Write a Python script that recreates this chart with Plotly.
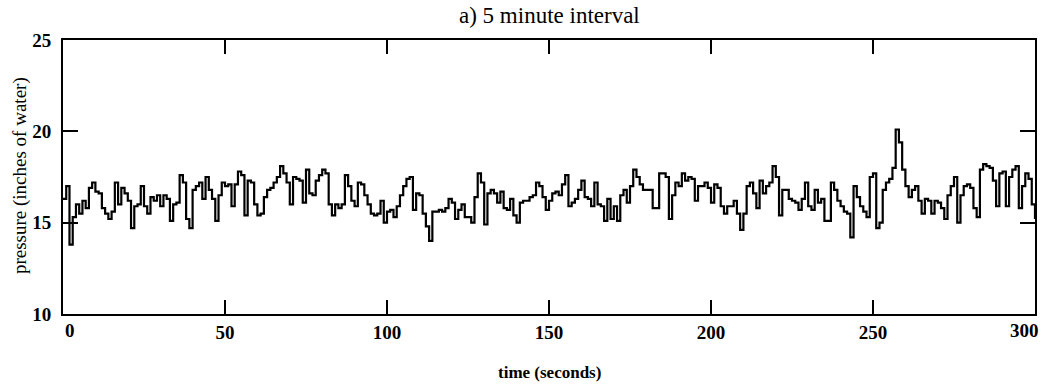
import plotly.graph_objects as go

# time axis (seconds), one reading per second
time_s = list(range(0, 301))

# pressure readings (inches of water)
pressure_0_59 = [
    16.3, 17.0, 13.8, 15.3, 16.0, 15.5, 16.2, 15.8, 16.9, 17.2,
    16.7, 16.6, 15.8, 15.5, 15.2, 15.6, 17.2, 16.0, 16.9, 16.6,
    16.2, 14.7, 15.9, 16.0, 17.0, 15.9, 15.5, 16.4, 16.2, 16.5,
    15.9, 16.5, 16.3, 15.1, 16.0, 16.1, 17.6, 17.2, 15.2, 14.7,
    16.8, 17.0, 17.2, 16.3, 17.5, 16.8, 16.3, 15.1, 16.5, 17.2,
    17.0, 17.1, 15.9, 17.1, 17.8, 17.6, 15.4, 17.3, 17.2, 16.0,
]
pressure_60_119 = [
    15.4, 15.5, 16.4, 16.8, 16.9, 17.2, 17.5, 18.1, 17.7, 17.2,
    16.0, 17.5, 17.4, 17.3, 16.1, 17.9, 16.6, 16.5, 17.3, 17.6,
    17.9, 17.7, 16.0, 15.4, 16.0, 15.8, 16.0, 17.6, 17.0, 16.2,
    15.9, 17.2, 17.1, 16.5, 16.0, 15.5, 15.4, 15.5, 16.2, 15.0,
    15.6, 15.7, 15.3, 15.9, 16.5, 17.0, 17.4, 17.5, 15.7, 16.6,
    16.5, 15.5, 14.8, 14.0, 15.6, 15.6, 15.7, 15.6, 15.8, 16.3,
]
pressure_120_179 = [
    16.1, 15.2, 15.7, 16.0, 15.3, 15.3, 15.0, 16.4, 17.7, 17.2,
    14.9, 16.6, 16.8, 16.6, 16.1, 16.7, 15.8, 15.7, 16.3, 15.4,
    15.0, 16.1, 16.2, 16.2, 16.4, 16.5, 17.2, 17.0, 16.4, 15.7,
    16.2, 16.6, 16.7, 16.5, 17.1, 17.6, 15.9, 16.1, 16.3, 16.8,
    17.3, 16.4, 16.3, 15.9, 17.2, 16.0, 15.9, 15.1, 16.3, 15.2,
    15.9, 15.1, 16.5, 16.8, 16.1, 17.0, 17.9, 17.5, 17.1, 16.8,
]
pressure_180_239 = [
    16.8, 16.8, 15.8, 15.8, 17.7, 17.7, 17.5, 15.2, 16.5, 17.2,
    17.0, 17.7, 17.3, 17.5, 17.4, 16.2, 17.0, 17.0, 17.2, 16.9,
    16.1, 17.1, 16.9, 15.9, 15.5, 15.9, 15.9, 16.2, 15.5, 14.6,
    15.5, 17.0, 17.2, 16.6, 15.8, 17.3, 16.6, 17.0, 17.2, 18.1,
    17.5, 15.4, 16.8, 16.8, 16.3, 16.2, 16.1, 15.7, 16.3, 17.2,
    15.9, 15.7, 16.8, 16.1, 16.3, 15.1, 15.1, 17.2, 16.8, 16.2,
]
pressure_240_300 = [
    15.9, 15.6, 15.5, 14.2, 17.0, 16.4, 15.9, 15.6, 15.3, 17.5,
    17.7, 14.7, 15.0, 16.8, 17.2, 17.4, 18.0, 20.1, 19.4, 17.9,
    17.0, 16.4, 16.8, 17.0, 16.2, 15.5, 16.3, 16.2, 15.5, 16.2,
    16.1, 15.8, 15.2, 16.5, 17.0, 17.5, 15.0, 16.5, 17.0, 17.1,
    16.9, 15.8, 15.3, 17.9, 18.2, 18.1, 18.0, 17.3, 15.9, 17.7,
    17.8, 15.9, 17.5, 17.9, 18.1, 15.8, 17.0, 17.7, 17.4, 16.0,
    15.2,
]
pressure = (pressure_0_59 + pressure_60_119 + pressure_120_179
            + pressure_180_239 + pressure_240_300)

x_ticks = [0, 50, 100, 150, 200, 250, 300]
x_inner_ticks = [50, 100, 150, 200, 250]
y_ticks = [10, 15, 20, 25]

title_text = "a) 5 minute interval"
x_title = "time (seconds)"
y_title = "pressure (inches of water)"

SERIF = "Liberation Serif"

fig = go.Figure()
fig.add_trace(go.Scatter(
    x=time_s, y=pressure, mode="lines",
    line=dict(color="black", width=2.2, shape="hv"),
    showlegend=False, hoverinfo="skip",
))

fig.update_layout(
    width=1048, height=386,
    margin=dict(l=63, r=11, t=40, b=72),
    paper_bgcolor="white", plot_bgcolor="white",
    showlegend=False,
)
fig.update_xaxes(
    range=[0, 300], tickvals=x_inner_ticks,
    ticktext=[str(v) for v in x_inner_ticks],
    ticks="inside", ticklen=14, tickwidth=2, tickcolor="black",
    showline=True, linewidth=2, linecolor="black", mirror="allticks",
    showgrid=False, zeroline=False,
    tickfont=dict(family=SERIF, size=19, color="black", weight="bold"),
    ticklabelstandoff=0,
)
fig.update_yaxes(
    range=[10, 25], tickvals=y_ticks,
    ticks="inside", ticklen=15, tickwidth=2, tickcolor="black",
    showline=True, linewidth=2, linecolor="black", mirror="allticks",
    showgrid=False, zeroline=False,
    tickfont=dict(family=SERIF, size=19, color="black", weight="bold"),
    ticklabelstandoff=6,
)

annotations = [
    dict(text=title_text, xref="paper", yref="paper", x=0.5, y=1.088,
         xanchor="center", yanchor="middle", showarrow=False,
         font=dict(family=SERIF, size=23, color="black")),
    dict(text=x_title, xref="paper", yref="paper", x=0.5, y=-0.212,
         xanchor="center", yanchor="middle", showarrow=False,
         font=dict(family=SERIF, size=17, color="black", weight="bold")),
    dict(text=y_title, xref="paper", yref="paper", x=-0.0442, y=0.5036,
         xanchor="center", yanchor="middle", showarrow=False, textangle=-90,
         font=dict(family=SERIF, size=19, color="black")),
]
# edge tick labels sit inside the frame, as in the original
for val, shift in [(x_ticks[0], 7), (x_ticks[-1], -11)]:
    annotations.append(dict(
        text=str(val), xref="x", yref="paper", x=val, y=-0.062,
        xanchor="center", yanchor="middle", xshift=shift, showarrow=False,
        font=dict(family=SERIF, size=19, color="black", weight="bold")))
fig.update_layout(annotations=annotations)

fig.write_html("out.html")
